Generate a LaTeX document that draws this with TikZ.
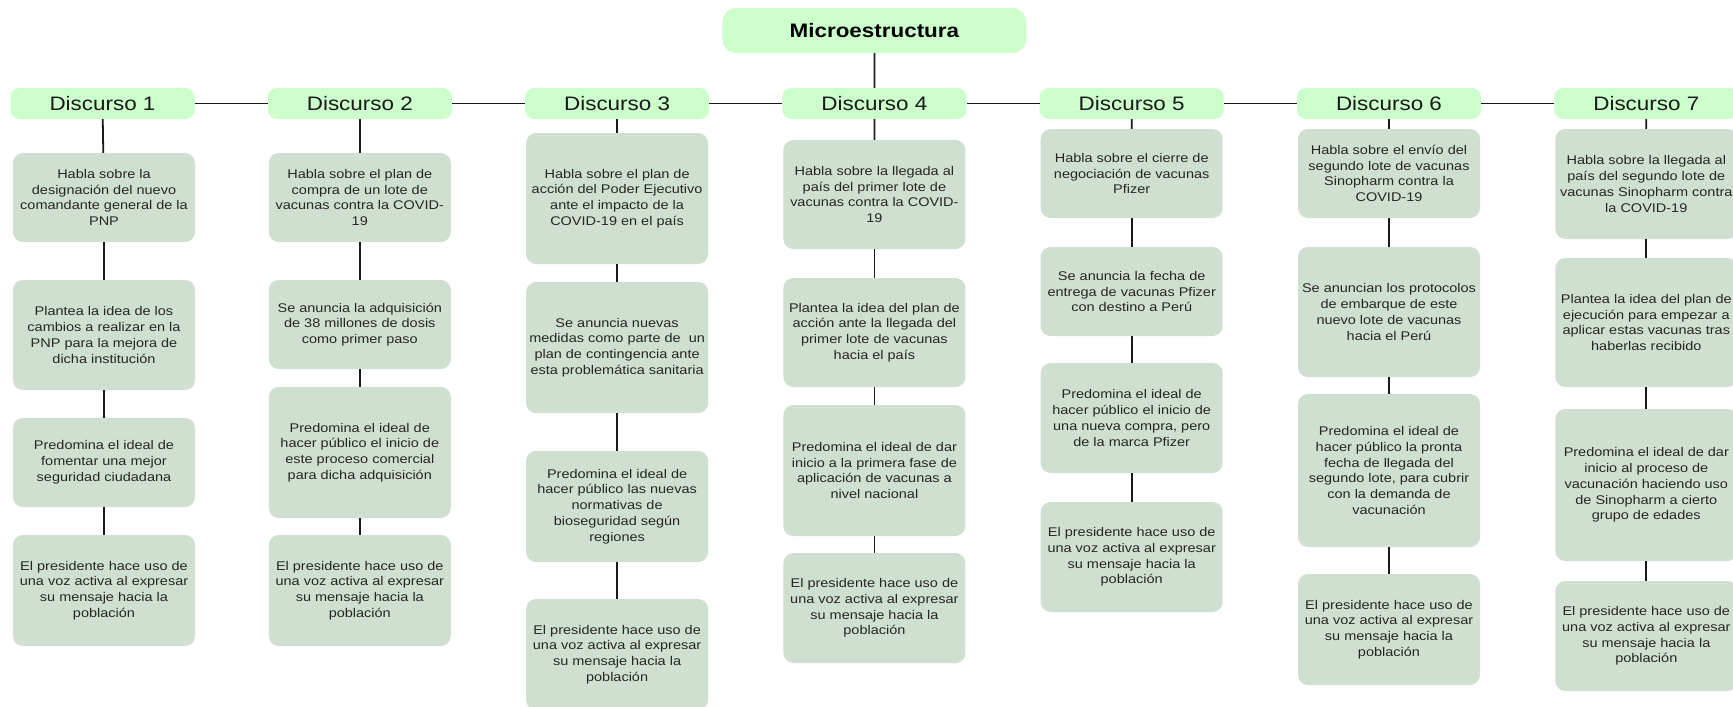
\documentclass[tikz,border=0pt]{standalone}
\usepackage{fontspec}
\setmainfont{Liberation Sans}[FakeStretch=1.15]
\usetikzlibrary{calc}
\definecolor{verdeclaro}{RGB}{204,255,204}
\definecolor{verdegris}{RGB}{208,224,208}
\definecolor{trazo}{RGB}{26,26,26}
\newcommand{\vozactiva}{El presidente hace uso de\\una voz activa al expresar\\su mensaje hacia la\\población}

\begin{document}
\begin{tikzpicture}[x=1pt,y=-1pt,
                    titulo/.style={fill=verdeclaro,rounded corners=14pt,minimum width=304pt,minimum height=45pt,inner sep=0pt,text=black,font=\fontsize{19.5}{22}\selectfont\bfseries},
                    discurso/.style={fill=verdeclaro,rounded corners=9pt,minimum width=184pt,minimum height=31pt,inner sep=0pt,text=black!90,font=\fontsize{19.5}{22}\selectfont},
                    idea/.style={fill=verdegris,rounded corners=10pt,minimum width=182pt,inner sep=0pt,align=center,text=black!85,font=\fontsize{12.6}{15.8}\selectfont},
                    enlace/.style={draw=trazo,line width=1.8pt}]
                      \useasboundingbox (0,0) rectangle (1733,707);
                      \fill[white] (0,0) rectangle (1733,707);
                      \node[titulo] (micro) at (874.4,30.5) {Microestructura};
                      \foreach \i in {1,...,7}
                      \node[discurso] (d\i) at ({102.5+257.3*(\i-1)},103.5) {Discurso \i};
                      \draw[enlace] (micro) -- (d4);
                      \foreach \i [count=\j from 2] in {1,...,6}
                      \draw[enlace] (d\i) -- (d\j);
                      \node[idea,minimum height=89pt] (c1-1) at (104,197.5) {Habla sobre la\\designación del nuevo\\comandante general de la\\PNP};
                      \node[idea,minimum height=110pt] (c1-2) at (104,335) {Plantea la idea de los\\cambios a realizar en la\\PNP para la mejora de\\dicha institución};
                      \node[idea,minimum height=89pt] (c1-3) at (104,462.5) {Predomina el ideal de\\fomentar una mejor\\seguridad ciudadana};
                      \node[idea,minimum height=111pt] (c1-4) at (104,590.5) {\vozactiva};
                      \node[idea,minimum height=89pt] (c2-1) at (359.8,197.5) {Habla sobre el plan de\\compra de un lote de\\vacunas contra la COVID-\\19};
                      \node[idea,minimum height=89pt] (c2-2) at (359.8,324.5) {Se anuncia la adquisición\\de 38 millones de dosis\\como primer paso};
                      \node[idea,minimum height=131pt] (c2-3) at (359.8,452.5) {Predomina el ideal de\\hacer público el inicio de\\este proceso comercial\\para dicha adquisición};
                      \node[idea,minimum height=111pt] (c2-4) at (359.8,590.5) {\vozactiva};
                      \node[idea,minimum height=131pt] (c3-1) at (617.1,198.5) {Habla sobre el plan de\\acción del Poder Ejecutivo\\ante el impacto de la\\COVID-19 en el país};
                      \node[idea,minimum height=131pt] (c3-2) at (617.1,347.5) {Se anuncia nuevas\\medidas como parte de\ \ un\\plan de contingencia ante\\esta problemática sanitaria};
                      \node[idea,minimum height=111pt] (c3-3) at (617.1,506.5) {Predomina el ideal de\\hacer público las nuevas\\normativas de\\bioseguridad según\\regiones};
                      \node[idea,minimum height=111pt] (c3-4) at (617.1,654.5) {\vozactiva};
                      \node[idea,minimum height=109pt] (c4-1) at (874.4,194.5) {Habla sobre la llegada al\\país del primer lote de\\vacunas contra la COVID-\\19};
                      \node[idea,minimum height=109pt] (c4-2) at (874.4,332.5) {Plantea la idea del plan de\\acción ante la llegada del\\primer lote de vacunas\\hacia el país};
                      \node[idea,minimum height=131pt] (c4-3) at (874.4,470.5) {Predomina el ideal de dar\\inicio a la primera fase de\\aplicación de vacunas a\\nivel nacional};
                      \node[idea,minimum height=110pt] (c4-4) at (874.4,608) {\vozactiva};
                      \node[idea,minimum height=89pt] (c5-1) at (1131.7,173.5) {Habla sobre el cierre de\\negociación de vacunas\\Pfizer};
                      \node[idea,minimum height=89pt] (c5-2) at (1131.7,291.5) {Se anuncia la fecha de\\entrega de vacunas Pfizer\\con destino a Perú};
                      \node[idea,minimum height=110pt] (c5-3) at (1131.7,418) {Predomina el ideal de\\hacer público el inicio de\\una nueva compra, pero\\de la marca Pfizer};
                      \node[idea,minimum height=110pt] (c5-4) at (1131.7,557) {\vozactiva};
                      \node[idea,minimum height=89pt] (c6-1) at (1389,173.5) {Habla sobre el envío del\\segundo lote de vacunas\\Sinopharm contra la\\COVID-19};
                      \node[idea,minimum height=130pt] (c6-2) at (1389,312) {Se anuncian los protocolos\\de embarque de este\\nuevo lote de vacunas\\hacia el Perú};
                      \node[idea,minimum height=153pt] (c6-3) at (1389,470.5) {Predomina el ideal de\\hacer público la pronta\\fecha de llegada del\\segundo lote, para cubrir\\con la demanda de\\vacunación};
                      \node[idea,minimum height=111pt] (c6-4) at (1389,629.5) {\vozactiva};
                      \node[idea,minimum height=110pt] (c7-1) at (1646.3,184) {Habla sobre la llegada al\\país del segundo lote de\\vacunas Sinopharm contra\\la COVID-19};
                      \node[idea,minimum height=129pt] (c7-2) at (1646.3,322.5) {Plantea la idea del plan de\\ejecución para empezar a\\aplicar estas vacunas tras\\haberlas recibido};
                      \node[idea,minimum height=152pt] (c7-3) at (1646.3,485) {Predomina el ideal de dar\\inicio al proceso de\\vacunación haciendo uso\\de Sinopharm a cierto\\grupo de edades};
                      \node[idea,minimum height=110pt] (c7-4) at (1646.3,636) {\vozactiva};
                      \foreach \c in {1,...,7}{
                      \draw[enlace] (d\c) -- (c\c-1);
                      \foreach \k [count=\m from 2] in {1,2,3}
                      \draw[enlace] (c\c-\k) -- (c\c-\m);
                      }
                  \end{tikzpicture}
\end{document}
